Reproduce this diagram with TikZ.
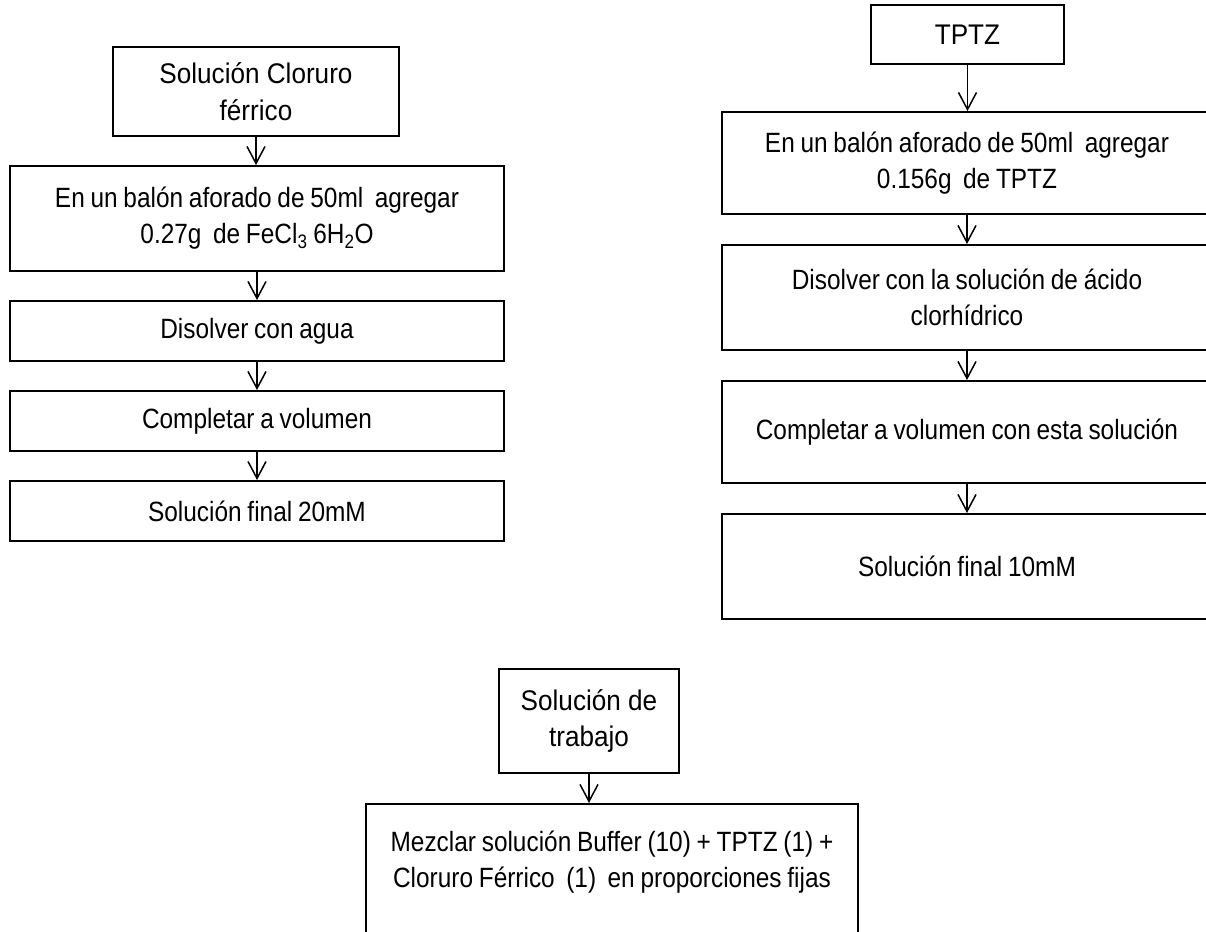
\documentclass[tikz,border=0pt]{standalone}
\usepackage{fontspec}
\setmainfont{Liberation Sans}
\newfontfamily\headfont[FakeStretch=0.92]{Liberation Sans}
\newfontfamily\stepfont[FakeStretch=0.875, WordSpace=0.85]{Liberation Sans}
\usetikzlibrary{arrows.meta}

\begin{document}
\begin{tikzpicture}[x=1bp,y=-1bp,
  box/.style={draw, line width=1.9bp, align=center, inner sep=0pt},
  headtxt/.style={font=\headfont\fontsize{28.5}{37}\selectfont},
  steptxt/.style={font=\stepfont\fontsize{28}{36}\selectfont},
  flow/.style={line width=1.5bp, -{Straight Barb[length=17bp,width=18bp,line width=1.5bp]}}]
\useasboundingbox (0,0) rectangle (1206,932);
\clip (0,0) rectangle (1206,932);
\fill[white] (0,0) rectangle (1206,932);

% ferric chloride solution
\node[box, headtxt, minimum width=286bp, minimum height=89bp] (L1) at (256,91.5) {Solución Cloruro\\férrico};
\node[box, steptxt, minimum width=494bp, minimum height=105bp] (L2) at (257,218.5)
  {En un balón aforado de 50ml\ \ agregar\\0.27g\ \ de FeCl\textsubscript{3} 6H\textsubscript{2}O};
\node[box, steptxt, minimum width=494bp, minimum height=60bp] (L3) at (257,331) {Disolver con agua};
\node[box, steptxt, minimum width=494bp, minimum height=60bp] (L4) at (257,421) {Completar a volumen};
\node[box, steptxt, minimum width=494bp, minimum height=60bp] (L5) at (257,511) {Solución final 20mM};

% TPTZ solution
\node[box, headtxt, minimum width=193bp, minimum height=59bp] (R1) at (967.5,34.5) {TPTZ};
\node[box, steptxt, minimum width=490bp, minimum height=102bp] (R2) at (967,163)
  {En un balón aforado de 50ml\ \ agregar\\0.156g\ \ de TPTZ};
\node[box, steptxt, minimum width=490bp, minimum height=105bp] (R3) at (967,297.5)
  {Disolver con la solución de ácido\\clorhídrico};
\node[box, steptxt, minimum width=490bp, minimum height=102bp] (R4) at (967,432)
  {Completar a volumen con esta solución};
\node[box, steptxt, minimum width=490bp, minimum height=105bp] (R5) at (967,566.5)
  {Solución final 10mM};

% working solution
\node[box, headtxt, minimum width=180bp, minimum height=104bp] (B1) at (589,721) {Solución de\\trabajo};
\node[box, minimum width=492bp, minimum height=160bp, anchor=north] (B2) at (612,803) {};
\node[steptxt, align=center] (B2text) at (612,862)
  {Mezclar solución Buffer (10) + TPTZ (1) +\\Cloruro Férrico\ \ (1)\ \ en proporciones fijas};

% connectors
\draw[flow] (L1.south) -- (L1.south |- L2.north);
\draw[flow] (L2.south) -- (L2.south |- L3.north);
\draw[flow] (L3.south) -- (L3.south |- L4.north);
\draw[flow] (L4.south) -- (L4.south |- L5.north);
\draw[flow] (R1.south) -- (R1.south |- R2.north);
\draw[flow] (R2.south) -- (R2.south |- R3.north);
\draw[flow] (R3.south) -- (R3.south |- R4.north);
\draw[flow] (R4.south) -- (R4.south |- R5.north);
\draw[flow] (B1.south) -- (B1.south |- B2.north);
\end{tikzpicture}
\end{document}
